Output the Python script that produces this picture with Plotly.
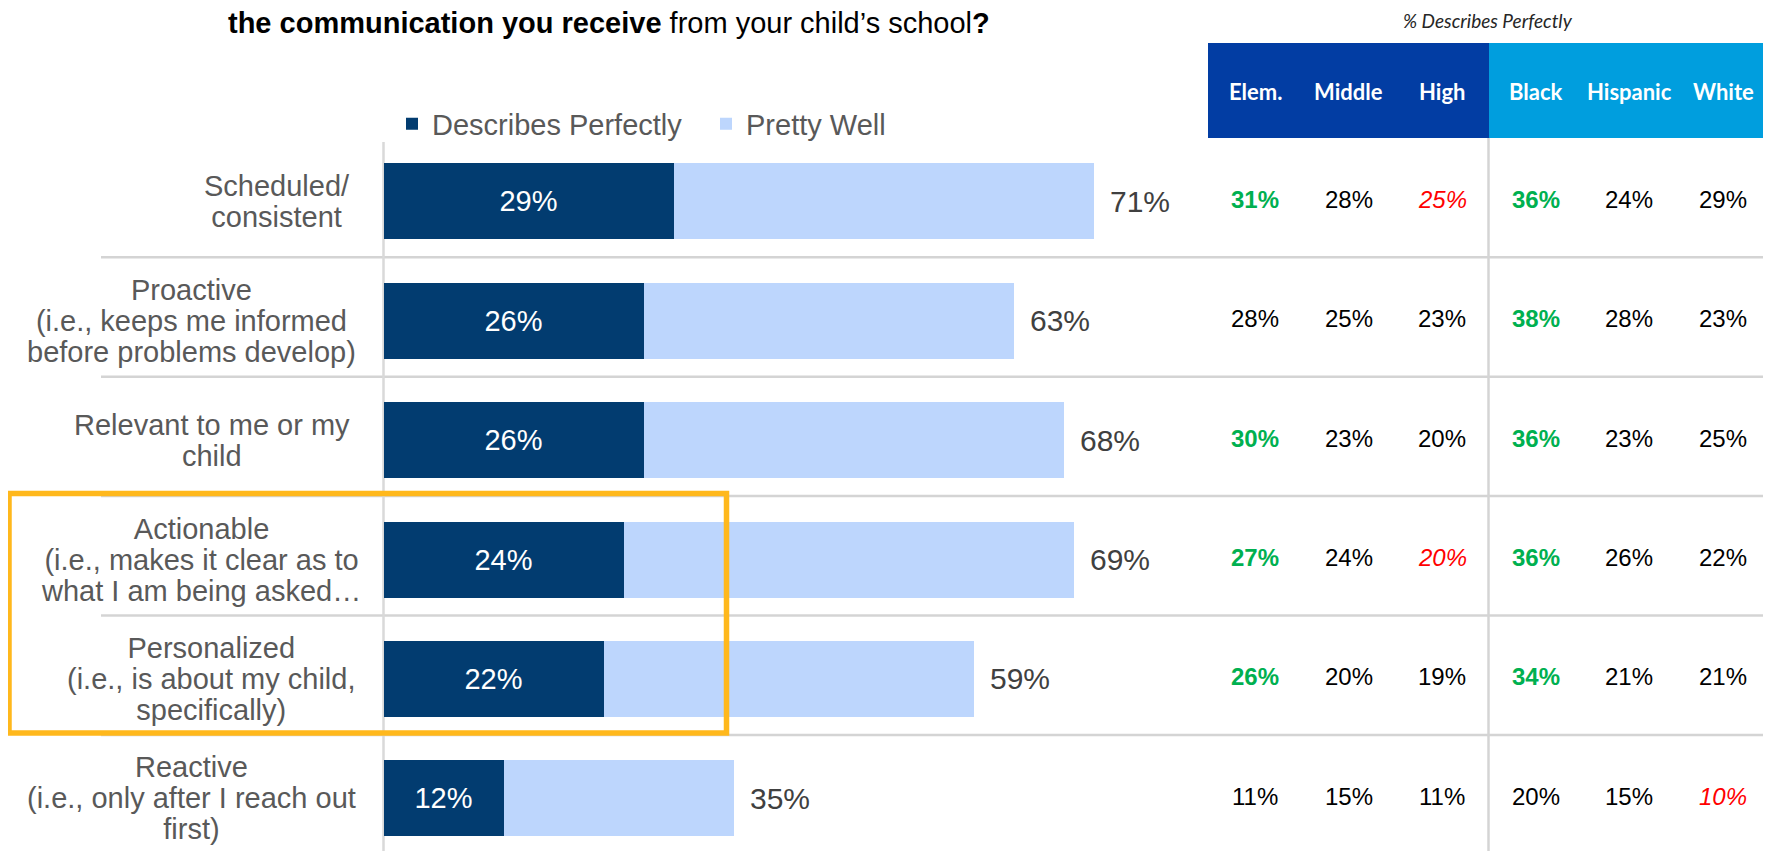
import plotly.graph_objects as go

# page is 1771x851; the html body adds an 8px margin, so the figure is 8px smaller
PAGE_W, PAGE_H = 1771, 851
OFF = 8
W, H = PAGE_W - OFF, PAGE_H - OFF

# ---------------- data ----------------
categories = [
    "Scheduled/<br>consistent",
    "Proactive<br>(i.e., keeps me informed<br>before problems develop)",
    "Relevant to me or my<br>child",
    "Actionable<br>(i.e., makes it clear as to<br>what I am being asked…",
    "Personalized<br>(i.e., is about my child,<br>specifically)",
    "Reactive<br>(i.e., only after I reach out<br>first)",
]
describes_perfectly = [29, 26, 26, 24, 22, 12]
pretty_well = [42, 37, 42, 45, 37, 23]

table_columns = ["Elem.", "Middle", "High", "Black", "Hispanic", "White"]
elem = [31, 28, 30, 27, 26, 11]
middle = [28, 25, 23, 24, 20, 15]
high = [25, 23, 20, 20, 19, 11]
black = [36, 38, 36, 36, 34, 20]
hispanic = [24, 28, 23, 26, 21, 15]
white = [29, 23, 25, 22, 21, 10]

# highlight: "g" = higher (green bold), "r" = lower (red italic)
elem_flags = ["g", "", "g", "g", "g", ""]
middle_flags = ["", "", "", "", "", ""]
high_flags = ["r", "", "", "r", "", ""]
black_flags = ["g", "g", "g", "g", "g", ""]
hispanic_flags = ["", "", "", "", "", ""]
white_flags = ["", "", "", "", "", "r"]

title_text = "<b>the communication you receive</b> from your child’s school<b>?</b>"
table_title = "<i>% Describes Perfectly</i>"

# ---------------- styling / geometry (page pixel coordinates) ----------------
FONT = "Liberation Sans, Arial, sans-serif"
HFONT = "Lato, Open Sans, sans-serif"
DARK = "#023C70"
LIGHT = "#BDD6FD"
GRID = "#D4D4D4"
ORANGE = "#FFB81C"
GREEN = "#00B050"
RED = "#FF0000"

AXIS_PX = 383.5
PX_PER_PCT = 10.0
ROW0_PX = 201.3
ROW_PX = 119.4
COL_PX = [1255, 1348.5, 1442, 1536, 1629, 1723]
LABEL_RIGHT_PX = [352, 358, 352, 363, 358, 358]


def px_x(px):
    return (px - OFF) / W


def px_y(px):
    return 1 - (px - OFF) / H


def label_html(text, size):
    return "<br>".join(
        f"<span style='font-size:{size}px'>{ln}</span>" for ln in text.split("<br>"))


fig = go.Figure()

fig.add_trace(go.Bar(
    y=categories, x=describes_perfectly, orientation="h",
    name="Describes Perfectly", marker=dict(color=DARK, line=dict(width=0)),
    text=[f"{v}%" for v in describes_perfectly], textposition="inside",
    insidetextanchor="middle", textangle=0,
    textfont=dict(family=FONT, size=29, color="white"),
    width=76 / ROW_PX, hoverinfo="skip",
))
fig.add_trace(go.Bar(
    y=categories, x=pretty_well, orientation="h",
    name="Pretty Well", marker=dict(color=LIGHT, line=dict(width=0)),
    width=76 / ROW_PX, hoverinfo="skip",
))

annotations = []
# totals outside bars
for cat, a, b in zip(categories, describes_perfectly, pretty_well):
    annotations.append(dict(
        x=a + b, y=cat, xref="x", yref="y", text=f"{a + b}%",
        showarrow=False, xanchor="left", yanchor="middle", xshift=14,
        font=dict(family=FONT, size=30, color="#404040"),
    ))
# category labels (centered lines, right-aligned block, tight line spacing)
for cat, rx in zip(categories, LABEL_RIGHT_PX):
    annotations.append(dict(
        x=px_x(rx), y=cat, xref="paper", yref="y", text=label_html(cat, 29),
        showarrow=False, xanchor="right", yanchor="middle", align="center",
        font=dict(family=FONT, size=24, color="#595959"),
    ))
# table values
cols = [(elem, elem_flags), (middle, middle_flags), (high, high_flags),
        (black, black_flags), (hispanic, hispanic_flags), (white, white_flags)]
for cx, (vals, flags) in zip(COL_PX, cols):
    for cat, v, f in zip(categories, vals, flags):
        txt = f"{v}%"
        color = "#000000"
        if f == "g":
            txt = f"<b>{txt}</b>"
            color = GREEN
        elif f == "r":
            txt = f"<i>{txt}</i>"
            color = RED
        annotations.append(dict(
            x=px_x(cx), y=cat, xref="paper", yref="y", text=txt,
            showarrow=False, xanchor="center", yanchor="middle", yshift=2,
            font=dict(family=FONT, size=24, color=color),
        ))
# table header labels
for cx, lab in zip(COL_PX, table_columns):
    annotations.append(dict(
        x=px_x(cx), y=px_y(91), xref="paper", yref="paper", text=f"<b>{lab}</b>",
        showarrow=False, xanchor="center", yanchor="middle",
        font=dict(family=HFONT, size=22, color="white"),
    ))
annotations.append(dict(
    x=px_x(1488), y=px_y(21), xref="paper", yref="paper", text=table_title,
    showarrow=False, xanchor="center", yanchor="middle",
    font=dict(family=HFONT, size=19, color="#262626"),
))
annotations.append(dict(
    x=px_x(226), y=px_y(23), xref="paper", yref="paper", text=title_text,
    showarrow=False, xanchor="left", yanchor="middle",
    font=dict(family=FONT, size=29, color="#000000"),
))

shapes = []
# header boxes
shapes.append(dict(type="rect", xref="paper", yref="paper",
                   x0=px_x(1208), x1=px_x(1489), y0=px_y(138), y1=px_y(43),
                   fillcolor="#023DA3", line=dict(width=0), layer="below"))
shapes.append(dict(type="rect", xref="paper", yref="paper",
                   x0=px_x(1489), x1=1, y0=px_y(138), y1=px_y(43),
                   fillcolor="#009EDE", line=dict(width=0), layer="below"))
# row separators
for i in range(len(categories) - 1):
    ypx = ROW0_PX + ROW_PX * i + 56
    shapes.append(dict(type="line", xref="paper", yref="paper",
                       x0=px_x(101), x1=1, y0=px_y(ypx), y1=px_y(ypx),
                       line=dict(color=GRID, width=2.5), layer="below"))
# bar axis line
shapes.append(dict(type="line", xref="paper", yref="paper",
                   x0=px_x(AXIS_PX), x1=px_x(AXIS_PX), y0=px_y(142), y1=0,
                   line=dict(color="#D9D9D9", width=2.5), layer="below"))
# table divider
shapes.append(dict(type="line", xref="paper", yref="paper",
                   x0=px_x(1488.5), x1=px_x(1488.5), y0=px_y(138), y1=0,
                   line=dict(color=GRID, width=2.5), layer="below"))
# orange highlight box
shapes.append(dict(type="rect", xref="paper", yref="paper",
                   x0=px_x(9), x1=px_x(726.5), y0=px_y(733), y1=px_y(493.5),
                   line=dict(color=ORANGE, width=5.5), fillcolor="rgba(0,0,0,0)",
                   layer="above"))

fig.update_layout(
    width=W, height=H, barmode="stack",
    margin=dict(l=0, r=0, t=0, b=0),
    paper_bgcolor="white", plot_bgcolor="white",
    font=dict(family=FONT, color="#595959"),
    xaxis=dict(range=[(OFF - AXIS_PX) / PX_PER_PCT, (PAGE_W - AXIS_PX) / PX_PER_PCT],
               showgrid=False, zeroline=False, showticklabels=False,
               showline=False, fixedrange=True),
    yaxis=dict(categoryorder="array", categoryarray=categories,
               range=[(PAGE_H - ROW0_PX) / ROW_PX, (OFF - ROW0_PX) / ROW_PX],
               showgrid=False, zeroline=False, showticklabels=False,
               showline=False, fixedrange=True),
    legend=dict(orientation="h", x=px_x(392), y=px_y(124),
                xanchor="left", yanchor="middle", entrywidth=269,
                font=dict(family=FONT, size=29, color="#595959"),
                bgcolor="rgba(0,0,0,0)", traceorder="normal"),
    annotations=annotations, shapes=shapes,
    showlegend=True,
)

fig.write_html("out.html")
